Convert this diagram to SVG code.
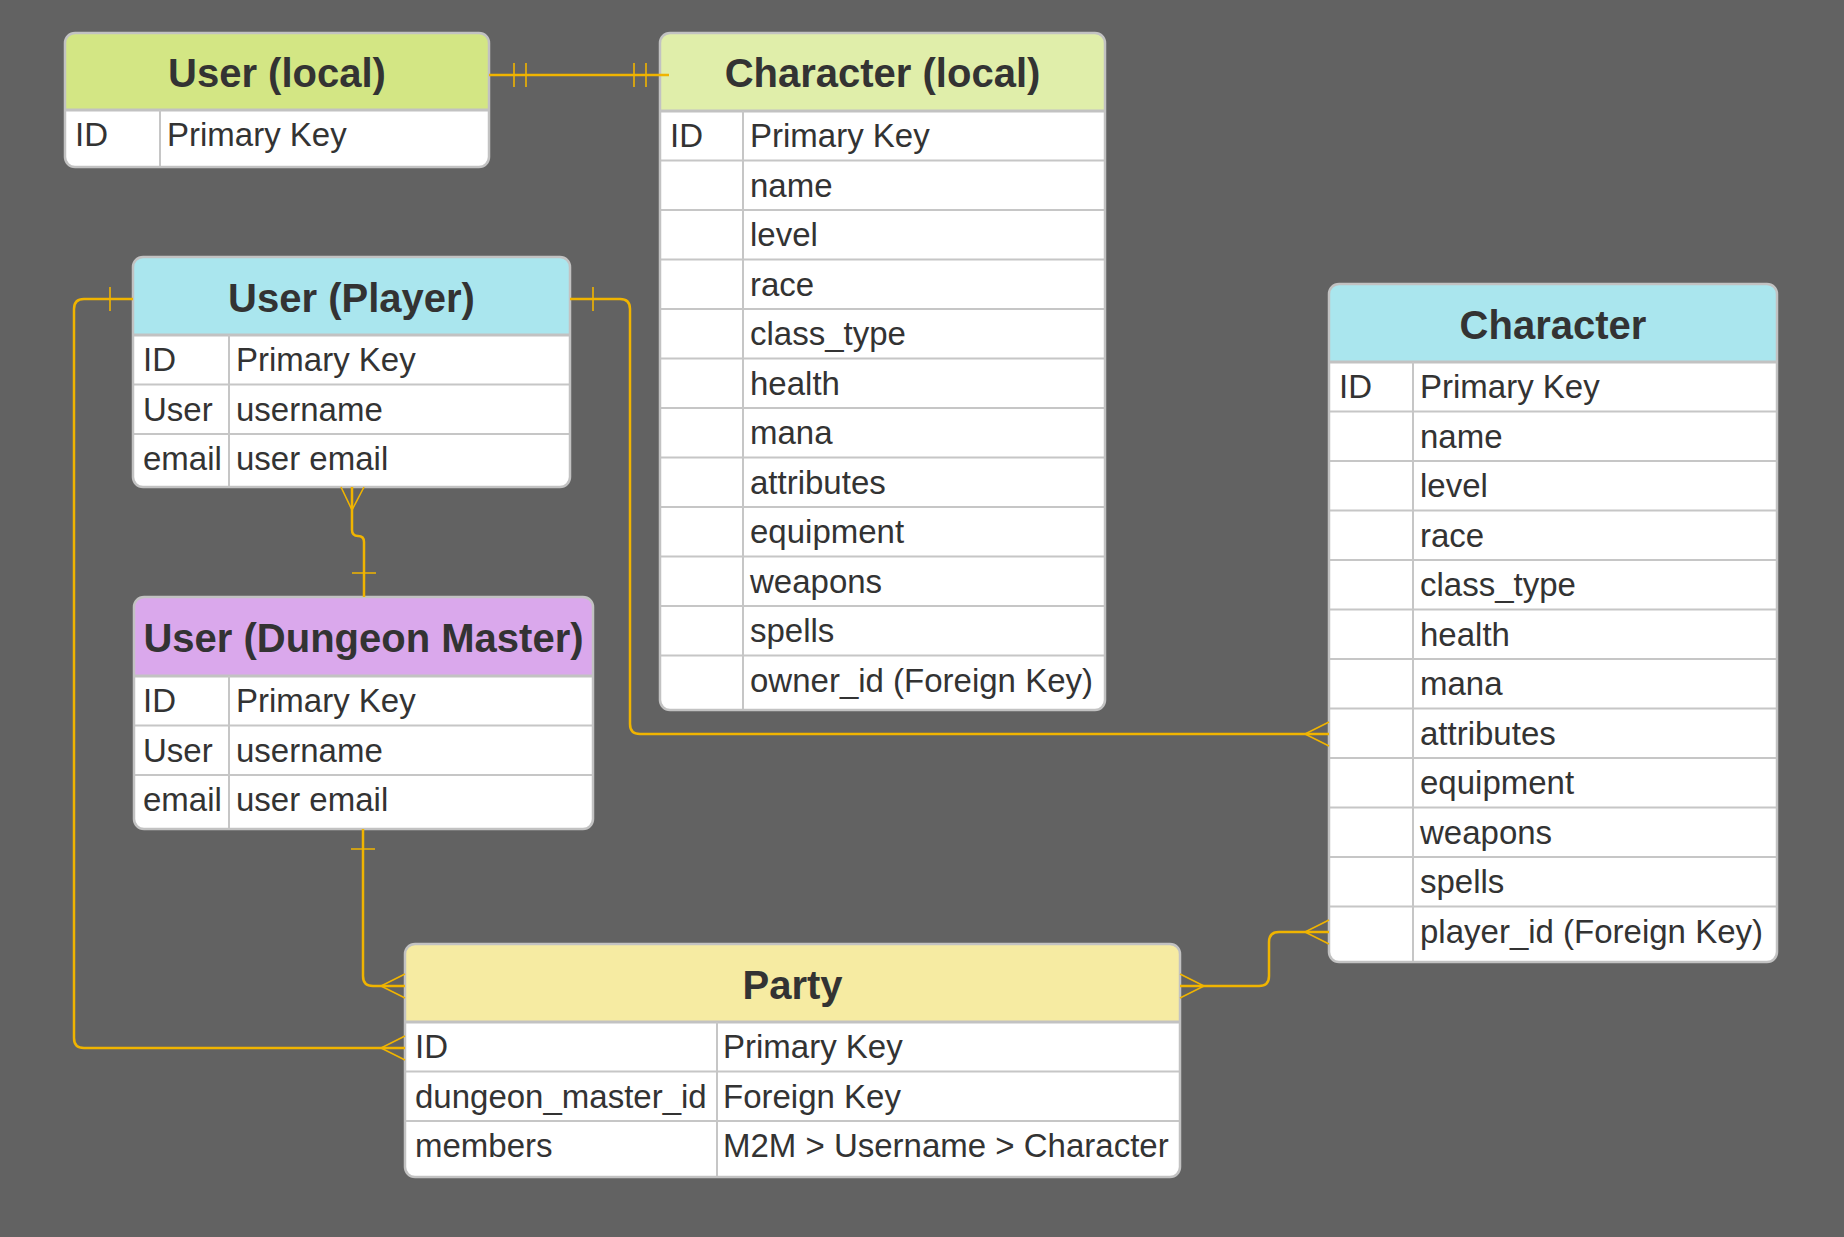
<svg xmlns="http://www.w3.org/2000/svg" width="1844" height="1237" viewBox="0 0 1844 1237">
<style>
.body{fill:#ffffff;}
.frame{fill:none;stroke:#c2c2c2;stroke-width:2.5;}
.sep{stroke:#c2c2c2;stroke-width:3;}
.row{stroke:#c6c6c6;stroke-width:2;}
.title{font-family:"Liberation Sans",Arial,sans-serif;font-size:40px;font-weight:bold;fill:#333333;text-anchor:middle;}
.cell{font-family:"Liberation Sans",Arial,sans-serif;font-size:33px;fill:#333333;}
.wire{fill:none;stroke:#f0b400;stroke-width:2.5;}
.mark{fill:none;stroke:#f0b400;stroke-width:1.6;}
</style>
<rect x="0" y="0" width="1844" height="1237" fill="#626262"/>

<g id="user-local">
<rect class="body" x="65" y="33" width="424" height="134" rx="10"/>
<path fill="#d3e684" d="M65,110 V43 A10,10 0 0 1 75,33 H479 A10,10 0 0 1 489,43 V110 Z"/>
<line class="sep" x1="65" y1="110" x2="489" y2="110"/>
<line class="row" x1="160" y1="110" x2="160" y2="167"/>
<rect class="frame" x="65" y="33" width="424" height="134" rx="10"/>
<text class="title" x="277" y="87">User (local)</text>
<text class="cell" x="75" y="146">ID</text>
<text class="cell" x="167" y="146">Primary Key</text>
</g>

<g id="character-local">
<rect class="body" x="660" y="33" width="445" height="677" rx="10"/>
<path fill="#e0eeaa" d="M660,111 V43 A10,10 0 0 1 670,33 H1095 A10,10 0 0 1 1105,43 V111 Z"/>
<line class="sep" x1="660" y1="111" x2="1105" y2="111"/>
<g class="row">
<line x1="660" y1="160.5" x2="1105" y2="160.5"/>
<line x1="660" y1="210" x2="1105" y2="210"/>
<line x1="660" y1="259.5" x2="1105" y2="259.5"/>
<line x1="660" y1="309" x2="1105" y2="309"/>
<line x1="660" y1="358.5" x2="1105" y2="358.5"/>
<line x1="660" y1="408" x2="1105" y2="408"/>
<line x1="660" y1="457.5" x2="1105" y2="457.5"/>
<line x1="660" y1="507" x2="1105" y2="507"/>
<line x1="660" y1="556.5" x2="1105" y2="556.5"/>
<line x1="660" y1="606" x2="1105" y2="606"/>
<line x1="660" y1="655.5" x2="1105" y2="655.5"/>
<line x1="743" y1="111" x2="743" y2="710"/>
</g>
<rect class="frame" x="660" y="33" width="445" height="677" rx="10"/>
<text class="title" x="882.5" y="87">Character (local)</text>
<text class="cell" x="670" y="147">ID</text>
<text class="cell" x="750" y="147">Primary Key</text>
<text class="cell" x="750" y="196.5">name</text>
<text class="cell" x="750" y="246">level</text>
<text class="cell" x="750" y="295.5">race</text>
<text class="cell" x="750" y="345">class_type</text>
<text class="cell" x="750" y="394.5">health</text>
<text class="cell" x="750" y="444">mana</text>
<text class="cell" x="750" y="493.5">attributes</text>
<text class="cell" x="750" y="543">equipment</text>
<text class="cell" x="750" y="592.5">weapons</text>
<text class="cell" x="750" y="642">spells</text>
<text class="cell" x="750" y="691.5">owner_id (Foreign Key)</text>
</g>

<g id="user-player">
<rect class="body" x="133" y="257" width="437" height="230" rx="10"/>
<path fill="#aae6ee" d="M133,335 V267 A10,10 0 0 1 143,257 H560 A10,10 0 0 1 570,267 V335 Z"/>
<line class="sep" x1="133" y1="335" x2="570" y2="335"/>
<g class="row">
<line x1="133" y1="384.5" x2="570" y2="384.5"/>
<line x1="133" y1="434" x2="570" y2="434"/>
<line x1="229" y1="335" x2="229" y2="487"/>
</g>
<rect class="frame" x="133" y="257" width="437" height="230" rx="10"/>
<text class="title" x="351.5" y="311.5">User (Player)</text>
<text class="cell" x="143" y="371">ID</text>
<text class="cell" x="236" y="371">Primary Key</text>
<text class="cell" x="143" y="420.5">User</text>
<text class="cell" x="236" y="420.5">username</text>
<text class="cell" x="143" y="470">email</text>
<text class="cell" x="236" y="470">user email</text>
</g>

<g id="user-dungeon-master">
<rect class="body" x="134" y="597" width="459" height="232" rx="10"/>
<path fill="#daa8ec" d="M134,676 V607 A10,10 0 0 1 144,597 H583 A10,10 0 0 1 593,607 V676 Z"/>
<line class="sep" x1="134" y1="676" x2="593" y2="676"/>
<g class="row">
<line x1="134" y1="725.5" x2="593" y2="725.5"/>
<line x1="134" y1="775" x2="593" y2="775"/>
<line x1="229" y1="676" x2="229" y2="829"/>
</g>
<rect class="frame" x="134" y="597" width="459" height="232" rx="10"/>
<text class="title" x="363.5" y="652">User (Dungeon Master)</text>
<text class="cell" x="143" y="712">ID</text>
<text class="cell" x="236" y="712">Primary Key</text>
<text class="cell" x="143" y="761.5">User</text>
<text class="cell" x="236" y="761.5">username</text>
<text class="cell" x="143" y="811">email</text>
<text class="cell" x="236" y="811">user email</text>
</g>

<g id="character">
<rect class="body" x="1329" y="284" width="448" height="678" rx="10"/>
<path fill="#aae6ee" d="M1329,362 V294 A10,10 0 0 1 1339,284 H1767 A10,10 0 0 1 1777,294 V362 Z"/>
<line class="sep" x1="1329" y1="362" x2="1777" y2="362"/>
<g class="row">
<line x1="1329" y1="411.5" x2="1777" y2="411.5"/>
<line x1="1329" y1="461" x2="1777" y2="461"/>
<line x1="1329" y1="510.5" x2="1777" y2="510.5"/>
<line x1="1329" y1="560" x2="1777" y2="560"/>
<line x1="1329" y1="609.5" x2="1777" y2="609.5"/>
<line x1="1329" y1="659" x2="1777" y2="659"/>
<line x1="1329" y1="708.5" x2="1777" y2="708.5"/>
<line x1="1329" y1="758" x2="1777" y2="758"/>
<line x1="1329" y1="807.5" x2="1777" y2="807.5"/>
<line x1="1329" y1="857" x2="1777" y2="857"/>
<line x1="1329" y1="906.5" x2="1777" y2="906.5"/>
<line x1="1413" y1="362" x2="1413" y2="962"/>
</g>
<rect class="frame" x="1329" y="284" width="448" height="678" rx="10"/>
<text class="title" x="1553" y="339">Character</text>
<text class="cell" x="1339" y="398">ID</text>
<text class="cell" x="1420" y="398">Primary Key</text>
<text class="cell" x="1420" y="447.5">name</text>
<text class="cell" x="1420" y="497">level</text>
<text class="cell" x="1420" y="546.5">race</text>
<text class="cell" x="1420" y="596">class_type</text>
<text class="cell" x="1420" y="645.5">health</text>
<text class="cell" x="1420" y="695">mana</text>
<text class="cell" x="1420" y="744.5">attributes</text>
<text class="cell" x="1420" y="794">equipment</text>
<text class="cell" x="1420" y="843.5">weapons</text>
<text class="cell" x="1420" y="893">spells</text>
<text class="cell" x="1420" y="942.5">player_id (Foreign Key)</text>
</g>

<g id="party">
<rect class="body" x="405" y="944" width="775" height="233" rx="10"/>
<path fill="#f6eba2" d="M405,1022 V954 A10,10 0 0 1 415,944 H1170 A10,10 0 0 1 1180,954 V1022 Z"/>
<line class="sep" x1="405" y1="1022" x2="1180" y2="1022"/>
<g class="row">
<line x1="405" y1="1071.5" x2="1180" y2="1071.5"/>
<line x1="405" y1="1121" x2="1180" y2="1121"/>
<line x1="717" y1="1022" x2="717" y2="1177"/>
</g>
<rect class="frame" x="405" y="944" width="775" height="233" rx="10"/>
<text class="title" x="792.5" y="998.5">Party</text>
<text class="cell" x="415" y="1058">ID</text>
<text class="cell" x="723" y="1058">Primary Key</text>
<text class="cell" x="415" y="1107.5">dungeon_master_id</text>
<text class="cell" x="723" y="1107.5">Foreign Key</text>
<text class="cell" x="415" y="1157">members</text>
<text class="cell" x="723" y="1157">M2M &gt; Username &gt; Character</text>
</g>

<g id="connectors">
<path class="wire" d="M489,75 H669"/>
<path class="mark" d="M514,63 V87 M526,63 V87 M634,63 V87 M646,63 V87"/>

<path class="wire" d="M133,299 H84 Q74,299 74,309 V1038 Q74,1048 84,1048 H405"/>
<path class="mark" d="M110,287 V311 M405,1036 L381,1048 L405,1060"/>

<path class="wire" d="M570,299 H620 Q630,299 630,309 V724 Q630,734 640,734 H1329"/>
<path class="mark" d="M593,287 V311 M1329,722 L1305,734 L1329,746"/>

<path class="wire" d="M352,487 V530 Q352,536 358,536 Q364,536 364,542 V597"/>
<path class="mark" d="M341,487 L352,510 L364,487 M352,573 H376"/>

<path class="wire" d="M363,829 V976 Q363,986 373,986 H405"/>
<path class="mark" d="M351,849 H375 M405,974 L381,986 L405,998"/>

<path class="wire" d="M1180,986 H1259 Q1269,986 1269,976 V942 Q1269,932 1279,932 H1329"/>
<path class="mark" d="M1180,974 L1204,986 L1180,998 M1329,920 L1305,932 L1329,944"/>
</g>
</svg>
